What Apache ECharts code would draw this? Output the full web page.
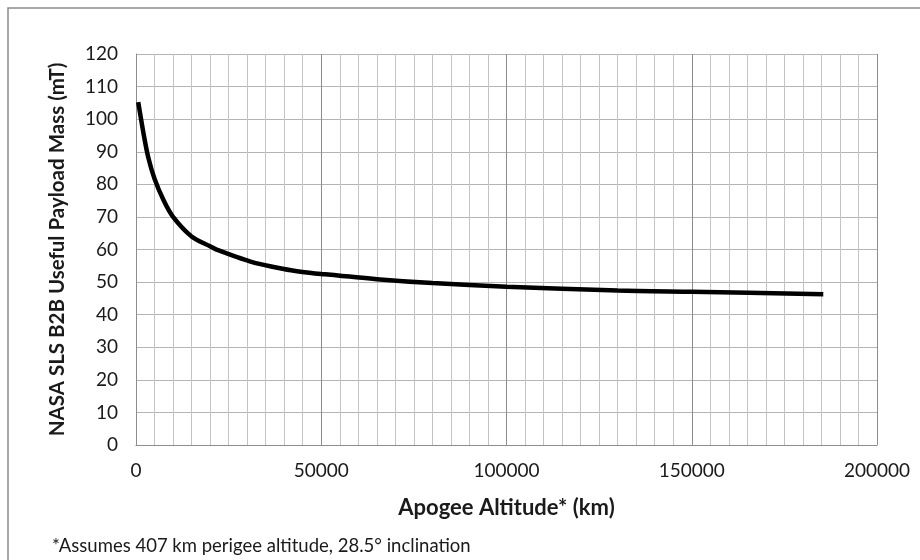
<!DOCTYPE html>
<html>
<head>
<meta charset="utf-8">
<script src="https://cdn.jsdelivr.net/npm/echarts@6/dist/echarts.min.js"></script>
<style>
  html, body { margin: 0; padding: 0; background: #fff; }
  #chart { width: 920px; height: 560px; }
</style>
</head>
<body>
<div id="chart"></div>
<script>
// apogee altitude (km) and useful payload (mT)
var apogeeKm = [600, 2000, 3300, 5000, 7450, 10000, 15000, 20000, 21900, 30900, 39900, 44400, 50000, 65000, 80000, 100000, 130000, 150000, 185500];
var payloadMt = [105.2, 95.8, 88.3, 81.7, 75.1, 70.0, 64.0, 61.0, 59.9, 56.3, 54.0, 53.2, 52.5, 50.9, 49.7, 48.6, 47.4, 47.0, 46.3];

var xTitle = 'Apogee Altitude* (km)';
var yTitle = 'NASA SLS B2B Useful Payload Mass (mT)';
var footnote = '*Assumes 407 km perigee altitude, 28.5\u00b0 inclination';

var points = apogeeKm.map(function(x, i) { return [x, payloadMt[i]]; });

var font = 'Lato, "Open Sans", sans-serif';
var myChart = echarts.init(document.getElementById('chart'));

var option = {
  animation: false,
  grid: { left: 136, right: 43, top: 54, bottom: 115 },
  graphic: [
    {
      type: 'rect',
      shape: { x: 8, y: 8, width: 940, height: 580 },
      style: { fill: 'none', stroke: '#8a8a8a', lineWidth: 1.5 }
    },
    {
      type: 'text',
      left: 52, top: 537,
      style: { text: footnote, font: '18.5px ' + font, fill: '#1a1a1a' }
    }
  ],
  xAxis: {
    type: 'value',
    min: 0, max: 200000, interval: 50000,
    name: xTitle,
    nameLocation: 'middle',
    nameGap: 52,
    nameTextStyle: { fontFamily: font, fontWeight: 'bold', fontSize: 22, color: '#1a1a1a' },
    axisLine: { lineStyle: { color: '#8c8c8c', width: 1 } },
    axisTick: { show: false },
    axisLabel: {
      fontFamily: font, fontSize: 19, color: '#1a1a1a', margin: 16,
      formatter: function(v) { return String(v); }
    },
    splitLine: { show: true, lineStyle: { color: '#8c8c8c', width: 1 } },
    minorTick: { show: false, splitNumber: 10 },
    minorSplitLine: { show: true, lineStyle: { color: '#c4c4c4', width: 1 } }
  },
  yAxis: {
    type: 'value',
    min: 0, max: 120, interval: 10,
    name: yTitle,
    nameLocation: 'middle',
    nameGap: 68,
    nameTextStyle: { fontFamily: font, fontWeight: 'bold', fontSize: 20.5, color: '#1a1a1a' },
    axisLine: { show: true, lineStyle: { color: '#8c8c8c', width: 1 } },
    axisTick: { show: false },
    axisLabel: { fontFamily: font, fontSize: 19, color: '#1a1a1a', margin: 18 },
    splitLine: { show: true, lineStyle: { color: '#b4b4b4', width: 1 } }
  },
  series: [
    {
      type: 'line',
      data: points,
      smooth: 0.3,
      showSymbol: false,
      lineStyle: { color: '#000', width: 4.5 }
    }
  ]
};

myChart.setOption(option);
</script>
</body>
</html>
